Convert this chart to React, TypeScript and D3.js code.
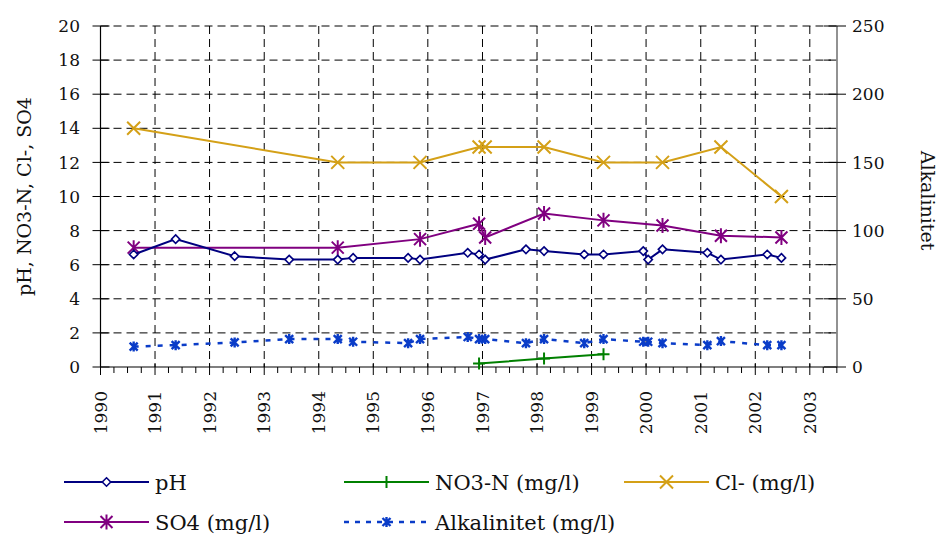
import React from "react";
import * as d3 from "d3";

// Sampling dates (shared by pH and alkalinity)
const dates = [
  "1990-08-11", "1991-05-19", "1992-06-17", "1993-06-17", "1994-05-08",
  "1994-08-19", "1995-08-22", "1995-11-10", "1996-09-24", "1996-12-09",
  "1997-01-19", "1997-10-19", "1998-02-17", "1998-11-13", "1999-03-22",
  "1999-12-13", "2000-01-15", "2000-04-20", "2001-02-14", "2001-05-16",
  "2002-03-22", "2002-06-25",
];
const phValues = [6.6, 7.5, 6.5, 6.3, 6.3, 6.4, 6.4, 6.3, 6.7, 6.6, 6.3, 6.9, 6.8, 6.6, 6.6, 6.8, 6.3, 6.9, 6.7, 6.3, 6.6, 6.4];
const alkValues = [15, 16, 18, 20.5, 20.5, 18.5, 17.5, 20.5, 22, 20.5, 20.5, 17.5, 20.5, 17.5, 20.5, 18.5, 18.5, 17.5, 16, 19, 16, 16];

const so4Dates = ["1990-08-11", "1994-05-08", "1995-11-10", "1996-12-09", "1997-01-19", "1998-02-17", "1999-03-22", "2000-04-20", "2001-05-16", "2002-06-25"];
const so4Values = [7.0, 7.0, 7.5, 8.4, 7.6, 9.0, 8.6, 8.3, 7.7, 7.6];

const clDates = ["1990-08-11", "1994-05-08", "1995-11-10", "1996-12-09", "1997-01-19", "1998-02-17", "1999-03-22", "2000-04-20", "2001-05-16", "2002-06-25"];
const clValues = [14, 12, 12, 12.9, 12.9, 12.9, 12, 12, 12.9, 10];

const no3Dates = ["1996-12-09", "1998-02-17", "1999-03-22"];
const no3Values = [0.2, 0.5, 0.75];

const yearTicks = d3.range(1990, 2004);
const leftTicks = d3.range(0, 21, 2);
const rightTicks = d3.range(0, 251, 50);
const rightMinor = d3.range(25, 250, 50);

const leftTitle = "pH, NO3-N, Cl-, SO4";
const rightTitle = "Alkalinitet";

const C = {
  ph: "#000080",
  no3: "#008000",
  cl: "#D4A017",
  so4: "#800080",
  alk: "#0A3CC8",
};

const FONT = "'DejaVu Serif', serif";

const W = 940;
const H = 534;
const m = { left: 100.5, right: 837, top: 26, bottom: 367 };

const parse = (s: string) => new Date(s + "T00:00:00Z");

const x = d3.scaleUtc()
  .domain([parse("1990-01-01"), parse("2003-07-02")])
  .range([m.left, m.right]);
const yL = d3.scaleLinear().domain([0, 20]).range([m.bottom, m.top]);
const yR = d3.scaleLinear().domain([0, 250]).range([m.bottom, m.top]);

type Pt = [number, number];
const pts = (ds: string[], vs: number[], y: d3.ScaleLinear<number, number>): Pt[] =>
  ds.map((d, i) => [x(parse(d)), y(vs[i])]);

const line = d3.line<Pt>().x((d) => d[0]).y((d) => d[1]);

function Diamond({ cx, cy, color }: { cx: number; cy: number; color: string }) {
  const r = 4.2;
  return (
    <path
      d={`M${cx},${cy - r}L${cx + r},${cy}L${cx},${cy + r}L${cx - r},${cy}Z`}
      fill="#fff"
      stroke={color}
      strokeWidth={1.6}
    />
  );
}
function Cross({ cx, cy, color, r, w }: { cx: number; cy: number; color: string; r: number; w: number }) {
  return (
    <path d={`M${cx - r},${cy - r}L${cx + r},${cy + r}M${cx - r},${cy + r}L${cx + r},${cy - r}`} stroke={color} strokeWidth={w} fill="none" />
  );
}
function Plus({ cx, cy, color, r, w }: { cx: number; cy: number; color: string; r: number; w: number }) {
  return (
    <path d={`M${cx - r},${cy}L${cx + r},${cy}M${cx},${cy - r}L${cx},${cy + r}`} stroke={color} strokeWidth={w} fill="none" />
  );
}
function Star({ cx, cy, color, r, w }: { cx: number; cy: number; color: string; r: number; w: number }) {
  return (
    <path
      d={`M${cx - r},${cy - r}L${cx + r},${cy + r}M${cx - r},${cy + r}L${cx + r},${cy - r}M${cx},${cy - r * 1.25}L${cx},${cy + r * 1.25}`}
      stroke={color}
      strokeWidth={w}
      fill="none"
    />
  );
}

export default function App() {
  const ph = pts(dates, phValues, yL);
  const alk = pts(dates, alkValues, yR);
  const so4 = pts(so4Dates, so4Values, yL);
  const cl = pts(clDates, clValues, yL);
  const no3 = pts(no3Dates, no3Values, yL);

  const yearX = (yr: number) => x(parse(`${yr}-01-01`));
  const minorTicks: number[] = [];
  d3.utcMonth.every(3)!.range(parse("1990-01-01"), parse("2003-07-02")).forEach((d) => {
    if (d.getUTCMonth() !== 0) minorTicks.push(x(d));
  });

  const legendRows = [
    { y: 482, items: [
      { x0: 64, label: "pH", color: C.ph, kind: "diamond", dash: undefined },
      { x0: 344, label: "NO3-N (mg/l)", color: C.no3, kind: "plus", dash: undefined },
      { x0: 624, label: "Cl- (mg/l)", color: C.cl, kind: "cross", dash: undefined },
    ] },
    { y: 522, items: [
      { x0: 64, label: "SO4 (mg/l)", color: C.so4, kind: "star", dash: undefined },
      { x0: 344, label: "Alkalinitet (mg/l)", color: C.alk, kind: "alk", dash: "5,6" },
    ] },
  ];

  return (
    <svg width={W} height={H} style={{ position: "absolute", left: 0, top: 0, background: "#fff" }} fontFamily={FONT}>
      {/* grid */}
      <g stroke="#000" strokeWidth={1} strokeDasharray="8,5" fill="none">
        {leftTicks.filter((t) => t > 0).map((t) => (
          <line key={"h" + t} x1={m.left} x2={m.right} y1={yL(t)} y2={yL(t)} />
        ))}
        {yearTicks.filter((yr) => yr > 1990).map((yr) => (
          <line key={"v" + yr} x1={yearX(yr)} x2={yearX(yr)} y1={m.top} y2={m.bottom} />
        ))}
      </g>

      {/* axes */}
      <line x1={m.left} x2={m.left} y1={m.top} y2={m.bottom} stroke="#000" strokeWidth={1.2} />
      <line x1={m.left} x2={m.right} y1={m.bottom} y2={m.bottom} stroke="#000" strokeWidth={1.2} />
      <line x1={m.right} x2={m.right} y1={m.top} y2={m.bottom} stroke="#777" strokeWidth={1.6} />

      {leftTicks.map((t) => (
        <g key={"lt" + t}>
          <line x1={m.left - 8} x2={m.left + 9} y1={yL(t)} y2={yL(t)} stroke="#000" />
          <text x={80} y={yL(t)} dy="0.36em" textAnchor="end" fontSize={17} fill="#111">{t}</text>
        </g>
      ))}
      {rightTicks.map((t) => (
        <g key={"rt" + t}>
          <line x1={m.right - 13} x2={m.right + 9} y1={yR(t)} y2={yR(t)} stroke="#000" />
          <text x={852} y={yR(t)} dy="0.36em" textAnchor="start" fontSize={17} fill="#111">{t}</text>
        </g>
      ))}
      {rightMinor.map((t) => (
        <line key={"rm" + t} x1={m.right - 13} x2={m.right - 6} y1={yR(t)} y2={yR(t)} stroke="#000" />
      ))}
      {yearTicks.map((yr) => (
        <g key={"xt" + yr}>
          <line x1={yearX(yr)} x2={yearX(yr)} y1={m.bottom - 4} y2={m.bottom + 8} stroke="#000" />
          <text
            transform={`translate(${yearX(yr)},${391}) rotate(-90)`}
            textAnchor="end"
            dy="0.36em"
            fontSize={17}
            fill="#111"
          >
            {yr}
          </text>
        </g>
      ))}
      {minorTicks.map((mx, i) => (
        <line key={"mx" + i} x1={mx} x2={mx} y1={m.bottom} y2={m.bottom + 6} stroke="#000" />
      ))}

      {/* axis titles */}
      <text transform={`translate(24,${(m.top + m.bottom) / 2}) rotate(-90)`} textAnchor="middle" dy="0.36em" fontSize={19} fill="#111">
        {leftTitle}
      </text>
      <text transform={`translate(928,${(m.top + m.bottom) / 2 + 4}) rotate(90)`} textAnchor="middle" dy="0.36em" fontSize={19} fill="#111">
        {rightTitle}
      </text>

      {/* series */}
      <path d={line(alk) ?? ""} fill="none" stroke={C.alk} strokeWidth={2.5} strokeDasharray="5,7" />
      {alk.map((p, i) => <Star key={"a" + i} cx={p[0]} cy={p[1]} color={C.alk} r={4} w={2.4} />)}

      <path d={line(cl) ?? ""} fill="none" stroke={C.cl} strokeWidth={2} />
      {cl.map((p, i) => <Cross key={"c" + i} cx={p[0]} cy={p[1]} color={C.cl} r={6.5} w={2} />)}

      <path d={line(so4) ?? ""} fill="none" stroke={C.so4} strokeWidth={2} />
      {so4.map((p, i) => <Star key={"s" + i} cx={p[0]} cy={p[1]} color={C.so4} r={6} w={2} />)}

      <path d={line(ph) ?? ""} fill="none" stroke={C.ph} strokeWidth={2} />
      {ph.map((p, i) => <Diamond key={"p" + i} cx={p[0]} cy={p[1]} color={C.ph} />)}

      <path d={line(no3) ?? ""} fill="none" stroke={C.no3} strokeWidth={2} />
      {no3.map((p, i) => <Plus key={"n" + i} cx={p[0]} cy={p[1]} color={C.no3} r={6} w={2} />)}

      {/* legend */}
      {legendRows.map((row, ri) =>
        row.items.map((it, ii) => {
          const x1 = it.x0;
          const x2 = it.x0 + 85;
          const mx = (x1 + x2) / 2;
          return (
            <g key={`lg${ri}-${ii}`}>
              <line x1={x1} x2={x2} y1={row.y} y2={row.y} stroke={it.color} strokeWidth={it.kind === "alk" ? 2.5 : 2} strokeDasharray={it.dash} />
              {it.kind === "diamond" && <Diamond cx={mx} cy={row.y} color={it.color} />}
              {it.kind === "plus" && <Plus cx={mx} cy={row.y} color={it.color} r={6} w={2} />}
              {it.kind === "cross" && <Cross cx={mx} cy={row.y} color={it.color} r={6.5} w={2} />}
              {it.kind === "star" && <Star cx={mx} cy={row.y} color={it.color} r={6} w={2} />}
              {it.kind === "alk" && <Star cx={mx} cy={row.y} color={it.color} r={4} w={2.4} />}
              <text x={x2 + 6} y={row.y} dy="0.36em" fontSize={21} fill="#111">{it.label}</text>
            </g>
          );
        })
      )}
    </svg>
  );
}
